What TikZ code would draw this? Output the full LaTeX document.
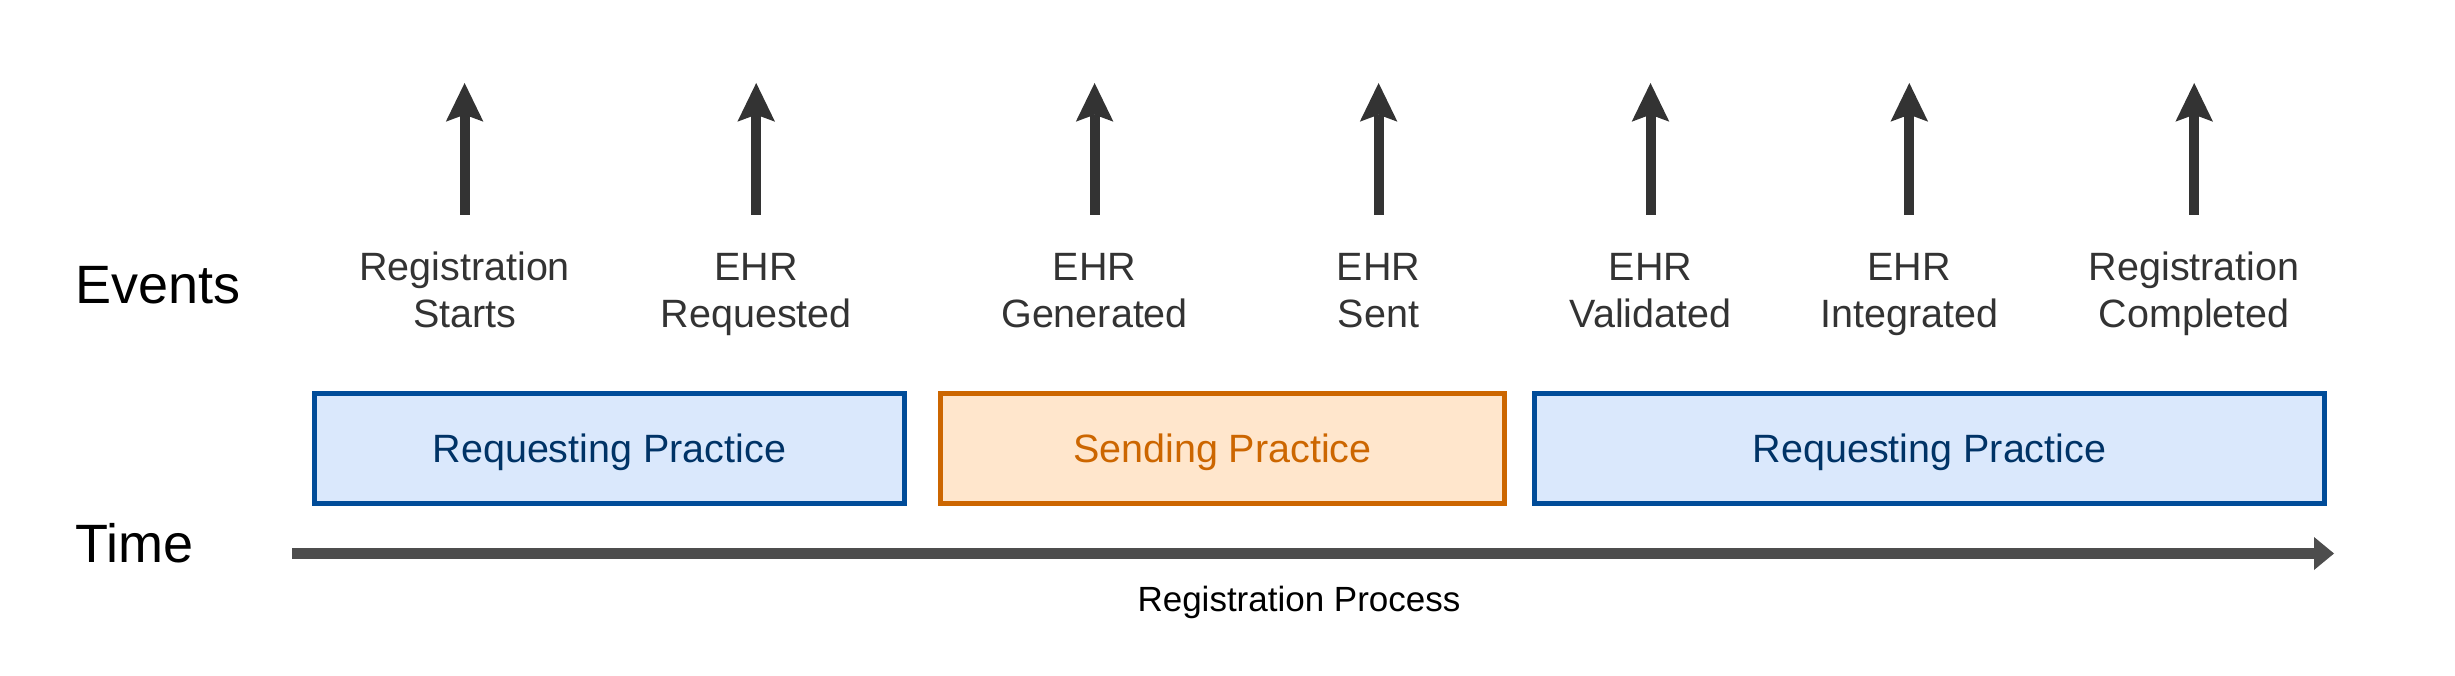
\documentclass[tikz,border=0pt]{standalone}
\usepackage{fontspec}
\setmainfont{Liberation Sans}
\usetikzlibrary{arrows.meta}
\definecolor{evgray}{HTML}{333333}
\definecolor{axgray}{HTML}{4D4D4D}
\definecolor{reqfill}{HTML}{DAE8FC}
\definecolor{reqline}{HTML}{004C99}
\definecolor{reqtext}{HTML}{003366}
\definecolor{sndfill}{HTML}{FFE6CC}
\definecolor{sndline}{HTML}{CC6600}
\begin{document}
\begin{tikzpicture}[x=1pt,y=-1pt,
  evarrow/.style={draw=evgray, line width=10pt,
    -{Stealth[length=38.7pt 0 0, width=37.6pt 0 0, inset=7pt 0, line width=0pt]}},
  evlabel/.style={text=evgray, font=\fontsize{39.5}{47}\selectfont, align=center,
    inner sep=0pt, anchor=north},
  phase/.style={line width=5pt, minimum height=110pt, inner sep=0pt,
    font=\fontsize{39.5}{47}\selectfont, text height=28pt, text depth=1pt},
  reqbox/.style={phase, draw=reqline, fill=reqfill, text=reqtext},
  sndbox/.style={phase, draw=sndline, fill=sndfill, text=sndline},
  sidelabel/.style={font=\fontsize{54}{64}\selectfont, inner sep=0pt, anchor=base west, text=black},
  axisline/.style={draw=axgray, line width=11pt,
    -{Triangle[length=20pt 0 0, width=33pt 0 0, line width=0pt]}},
  axislabel/.style={font=\fontsize{35}{42}\selectfont, inner sep=0pt, anchor=base, text=black}
]
\useasboundingbox (0,0) rectangle (2455,676);

% side labels
\node[sidelabel] (events) at (75.5,304) {Events};
\node[sidelabel] (time) at (75.5,562.7) {Time};

% event arrows and labels
\foreach \i/\x/\t in {1/464.6/{Registration\\Starts},
                      2/756.2/{EHR\\Requested},
                      3/1094.6/{EHR\\Generated},
                      4/1378.6/{EHR\\Sent},
                      5/1650.5/{EHR\\Validated},
                      6/1909.3/{EHR\\Integrated},
                      7/2194.2/{Registration\\Completed}}{
  \coordinate (eb\i) at (\x,215);
  \coordinate (et\i) at (\x,83);
  \draw[evarrow] (eb\i) -- (et\i);
  \node[evlabel] (ev\i) at (\x,248) {\rule{0pt}{32pt}\t};
}

% phase boxes
\node[reqbox, minimum width=589.7pt] (req1) at (609.35,448.5) {Requesting Practice};
\node[sndbox, minimum width=563.7pt] (snd) at (1222.35,448.5) {Sending Practice};
\node[reqbox, minimum width=790pt] (req2) at (1929.5,448.5) {Requesting Practice};

% time axis
\coordinate (ts) at (292,553.5);
\coordinate (te) at (2334,553.5);
\draw[axisline] (ts) -- (te);
\node[axislabel] (proc) at (1299,611) {Registration Process};
\end{tikzpicture}
\end{document}
